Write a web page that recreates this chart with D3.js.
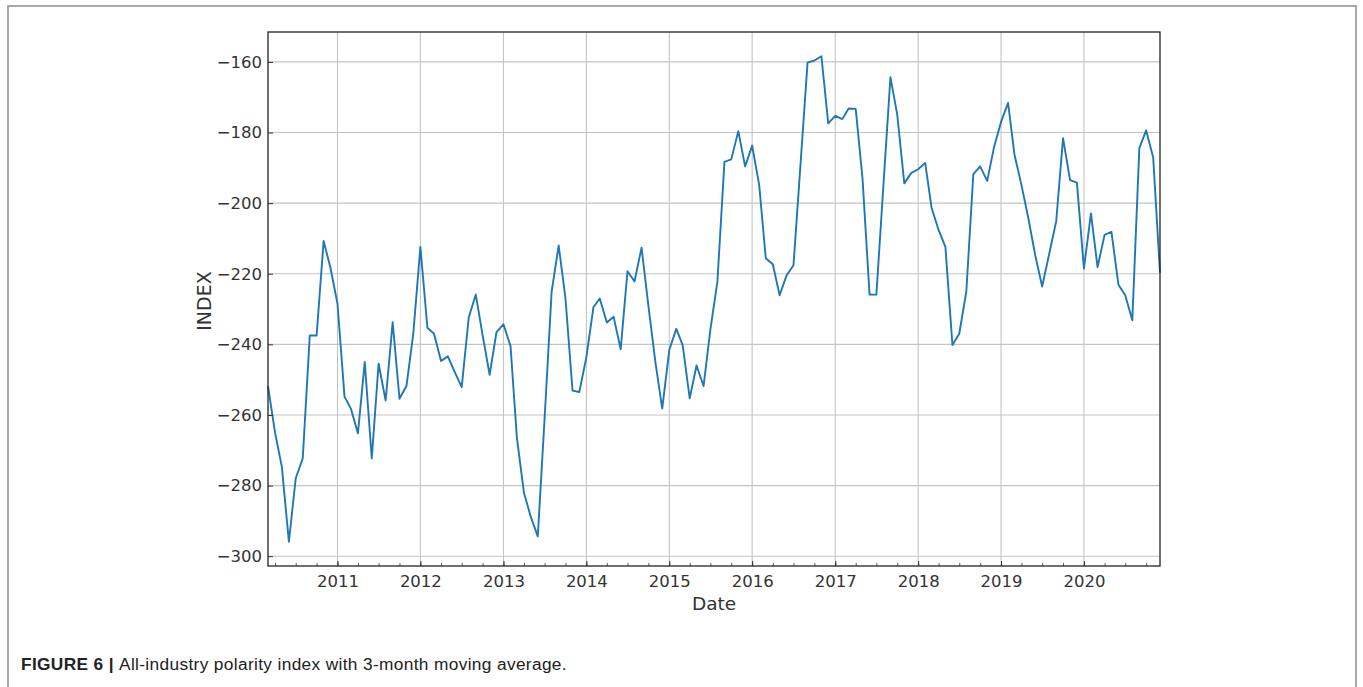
<!DOCTYPE html>
<html>
<head>
<meta charset="utf-8">
<script src="https://cdn.jsdelivr.net/npm/d3@7"></script>
<style>
  body { margin: 0; background: #fff; }
  svg { display: block; }
</style>
</head>
<body>
<div id="chart"></div>
<script>
// Monthly 3-month moving average of the polarity index (series starts March 2010)
const years = [2010, 2011, 2012, 2013, 2014, 2015, 2016, 2017, 2018, 2019, 2020];
const firstMonth = 3;
const idx2010 = [-251.8, -265.0, -274.7, -295.9, -278.0, -272.3, -237.5, -237.5, -210.7, -218.3];
const idx2011 = [-228.5, -254.8, -258.2, -265.2, -245.0, -272.3, -245.5, -255.9, -233.7, -255.4, -251.7, -236.8];
const idx2012 = [-212.4, -235.3, -237.0, -244.7, -243.4, -247.9, -252.1, -232.4, -225.9, -237.4, -248.6, -236.6];
const idx2013 = [-234.3, -240.5, -266.4, -282.0, -288.8, -294.4, -261.0, -225.1, -212.0, -227.0, -253.1, -253.5];
const idx2014 = [-243.6, -229.5, -227.0, -233.8, -232.2, -241.4, -219.3, -222.2, -212.6, -229.0, -245.0, -258.2];
const idx2015 = [-241.6, -235.6, -240.2, -255.3, -246.0, -251.8, -235.8, -222.2, -188.3, -187.6, -179.6, -189.6];
const idx2016 = [-183.7, -194.9, -215.6, -217.3, -226.1, -220.4, -217.6, -189.0, -160.2, -159.6, -158.4, -177.4];
const idx2017 = [-175.3, -176.2, -173.2, -173.3, -193.0, -225.9, -225.9, -195.0, -164.3, -175.0, -194.4, -191.5];
const idx2018 = [-190.4, -188.6, -201.3, -207.6, -212.4, -240.2, -237.0, -225.1, -191.8, -189.6, -193.7, -184.2];
const idx2019 = [-177.0, -171.6, -186.2, -194.9, -204.2, -214.9, -223.6, -214.4, -205.1, -181.6, -193.5, -194.2];
const idx2020 = [-218.5, -202.9, -218.1, -209.0, -208.1, -223.1, -226.1, -233.2, -184.4, -179.4, -187.1, -219.7];
const yearValues = [idx2010, idx2011, idx2012, idx2013, idx2014, idx2015, idx2016, idx2017, idx2018, idx2019, idx2020];
const yTicks = [-300, -280, -260, -240, -220, -200, -180, -160];

const data = [];
years.forEach((yr, i) => {
    yearValues[i].forEach((v, j) => {
        const m = (i === 0 ? firstMonth - 1 : 0) + j;
        data.push({date: new Date(yr, m, 1), value: v});
    });
});

const W = 1363, H = 687;
const plot = {left: 268, right: 1160, top: 32, bottom: 566};

const svg = d3.select("#chart")
    .append("svg")
    .attr("width", W)
    .attr("height", H);

// outer figure frame (bottom edge runs off the page)
svg.append("rect")
    .attr("x", 8).attr("y", 6)
    .attr("width", 1348).attr("height", 720)
    .attr("fill", "none")
    .attr("stroke", "#8c8c8c")
    .attr("stroke-width", 1.5);

const x = d3.scaleTime()
    .domain(d3.extent(data, d => d.date))
    .range([plot.left, plot.right]);

const ext = d3.extent(data, d => d.value);
const pad = (ext[1] - ext[0]) * 0.05;
const y = d3.scaleLinear()
    .domain([ext[0] - pad, ext[1] + pad])
    .range([plot.bottom, plot.top]);

// grid
const grid = svg.append("g").attr("stroke", "#c4c4c4").attr("stroke-width", 1.1);
grid.selectAll(".gx")
    .data(x.ticks(d3.timeYear))
    .enter().append("line")
    .attr("x1", d => x(d)).attr("x2", d => x(d))
    .attr("y1", plot.top).attr("y2", plot.bottom);
grid.selectAll(".gy")
    .data(yTicks)
    .enter().append("line")
    .attr("x1", plot.left).attr("x2", plot.right)
    .attr("y1", d => y(d)).attr("y2", d => y(d));

// line
const line = d3.line()
    .x(d => x(d.date))
    .y(d => y(d.value));

svg.append("path")
    .datum(data)
    .attr("fill", "none")
    .attr("stroke", "#1f77b4")
    .attr("stroke-width", 1.9)
    .attr("stroke-linejoin", "round")
    .attr("d", line);

// minor x ticks (quarterly)
svg.append("g")
    .attr("transform", `translate(0, ${plot.bottom})`)
    .call(d3.axisBottom(x).ticks(d3.timeMonth.every(3)).tickSizeInner(-3).tickSizeOuter(0).tickFormat(""))
    .call(g => g.select(".domain").remove())
    .call(g => g.selectAll("line").attr("stroke", "#333").attr("stroke-width", 0.8));

// x axis
svg.append("g")
    .attr("transform", `translate(0, ${plot.bottom})`)
    .call(d3.axisBottom(x).ticks(d3.timeYear).tickFormat(d3.timeFormat("%Y"))
        .tickSizeInner(-5).tickSizeOuter(0).tickPadding(9))
    .call(g => g.select(".domain").remove())
    .call(g => g.selectAll("line").attr("stroke", "#333"))
    .call(g => g.selectAll("text")
        .attr("font-family", "DejaVu Sans, sans-serif")
        .attr("font-size", 16.5)
        .attr("fill", "#333"));

// y axis
svg.append("g")
    .attr("transform", `translate(${plot.left}, 0)`)
    .call(d3.axisLeft(y).tickValues(yTicks).tickSizeInner(-5).tickSizeOuter(0).tickPadding(6))
    .call(g => g.select(".domain").remove())
    .call(g => g.selectAll("line").attr("stroke", "#333"))
    .call(g => g.selectAll("text")
        .attr("font-family", "DejaVu Sans, sans-serif")
        .attr("font-size", 16.5)
        .attr("fill", "#333"));

// spines
svg.append("rect")
    .attr("x", plot.left).attr("y", plot.top)
    .attr("width", plot.right - plot.left)
    .attr("height", plot.bottom - plot.top)
    .attr("fill", "none")
    .attr("stroke", "#222")
    .attr("stroke-width", 1.3);

// axis titles
svg.append("text")
    .attr("x", (plot.left + plot.right) / 2)
    .attr("y", 610)
    .attr("text-anchor", "middle")
    .attr("font-family", "DejaVu Sans, sans-serif")
    .attr("font-size", 18.5)
    .attr("fill", "#333")
    .text("Date");

svg.append("text")
    .attr("transform", `translate(211, ${(plot.top + plot.bottom) / 2 + 2}) rotate(-90)`)
    .attr("text-anchor", "middle")
    .attr("font-family", "DejaVu Sans, sans-serif")
    .attr("font-size", 19)
    .attr("fill", "#333")
    .text("INDEX");

// caption
const cap = svg.append("text")
    .attr("x", 21)
    .attr("y", 670)
    .attr("font-family", "Liberation Sans, Arial, sans-serif")
    .attr("font-size", 17.3)
    .attr("letter-spacing", 0.35)
    .attr("fill", "#222");
cap.append("tspan").attr("font-weight", "bold").text("FIGURE 6 | ");
cap.append("tspan").text("All-industry polarity index with 3-month moving average.");
</script>
</body>
</html>
